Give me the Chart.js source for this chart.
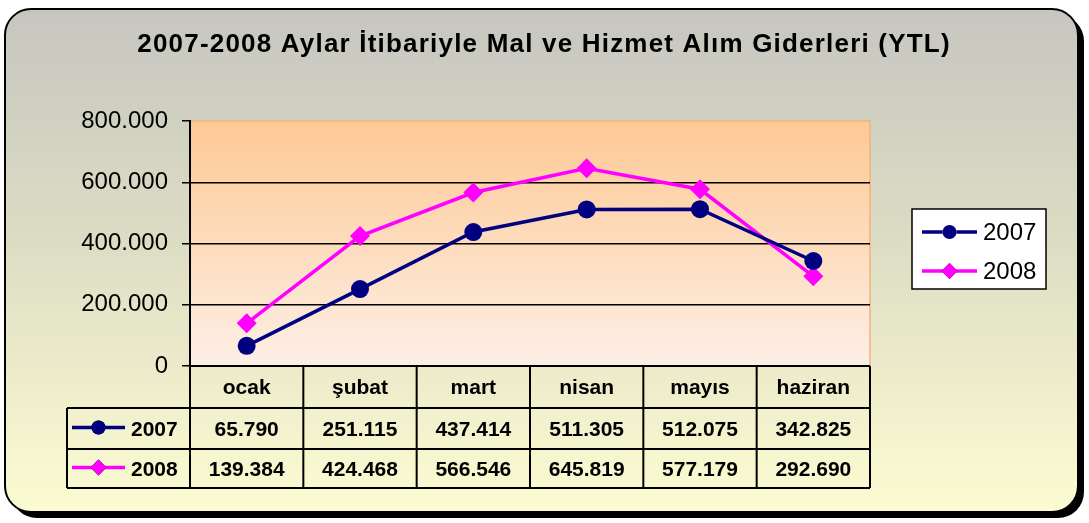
<!DOCTYPE html>
<html>
<head>
<meta charset="utf-8">
<script src="https://cdn.jsdelivr.net/npm/chart.js@4.4.0/dist/chart.umd.min.js"></script>
<style>
  html, body { margin: 0; padding: 0; background: #ffffff; }
  #wrap { width: 1089px; height: 523px; }
</style>
</head>
<body>
<div id="wrap"><canvas id="chart" width="1089" height="523"></canvas></div>
<script>
const titleText = '2007-2008 Aylar İtibariyle Mal ve Hizmet Alım Giderleri (YTL)';
const months = ['ocak', 'şubat', 'mart', 'nisan', 'mayıs', 'haziran'];
const seriesNames = ['2007', '2008'];
const values2007 = [65790, 251115, 437414, 511305, 512075, 342825];
const values2008 = [139384, 424468, 566546, 645819, 577179, 292690];
const yTicks = [0, 200000, 400000, 600000, 800000];
const lineColors = ['#000080', '#FF00FF'];
const markerStyles = ['circle', 'rectRot'];
const FONT = 'Arial, "Liberation Sans", sans-serif';

function fmt(v) {
    return v === 0 ? '0' : v.toLocaleString('de-DE');
}

// frame, shadow, title and plot area background
const backgroundPlugin = {
    id: 'background',
    beforeDraw(chart) {
        const ctx = chart.ctx;
        const a = chart.chartArea;
        ctx.save();
        const x = 5, y = 9, w = 1073, h = 503, r = 26;
        ctx.fillStyle = '#000000';
        ctx.beginPath();
        ctx.roundRect(x + 6, y + 6, w, h, r);
        ctx.fill();
        const g = ctx.createLinearGradient(0, y, 0, y + h);
        g.addColorStop(0, '#c6c6c0');
        g.addColorStop(0.45, '#dcdcc4');
        g.addColorStop(1, '#fcfcd2');
        ctx.fillStyle = g;
        ctx.strokeStyle = '#000000';
        ctx.lineWidth = 2;
        ctx.beginPath();
        ctx.roundRect(x, y, w, h, r);
        ctx.fill();
        ctx.stroke();

        ctx.fillStyle = '#000000';
        ctx.font = 'bold 26px ' + FONT;
        ctx.letterSpacing = '1.2px';
        ctx.textAlign = 'center';
        ctx.textBaseline = 'middle';
        ctx.fillText(titleText, 544, 45);
        ctx.letterSpacing = '0px';

        const pg = ctx.createLinearGradient(0, a.top, 0, a.bottom);
        pg.addColorStop(0, '#fdc994');
        pg.addColorStop(1, '#fdefe6');
        ctx.fillStyle = pg;
        ctx.fillRect(a.left, a.top, a.right - a.left, a.bottom - a.top);
        ctx.strokeStyle = '#f0b47c';
        ctx.lineWidth = 1.5;
        ctx.beginPath();
        ctx.moveTo(a.left, a.top);
        ctx.lineTo(a.right, a.top);
        ctx.lineTo(a.right, a.bottom);
        ctx.stroke();
        ctx.restore();
    }
};

function drawKey(ctx, i, x1, x2, cy) {
    ctx.strokeStyle = lineColors[i];
    ctx.lineWidth = 3.5;
    ctx.beginPath();
    ctx.moveTo(x1, cy);
    ctx.lineTo(x2, cy);
    ctx.stroke();
    Chart.helpers.drawPoint(ctx, {
        pointStyle: markerStyles[i], radius: i === 0 ? 7 : 8, borderWidth: 0
    }, (x1 + x2) / 2, cy);
    ctx.fillStyle = lineColors[i];
    ctx.fill();
}

// data table under the plot and the boxed legend on the right
const tablePlugin = {
    id: 'dataTable',
    afterDraw(chart) {
        const ctx = chart.ctx;
        const a = chart.chartArea;
        const xs = chart.scales.x;
        const colW = (a.right - a.left) / months.length;
        const rows = [a.bottom, 408, 449, 488];
        const leftX = 67;
        ctx.save();
        ctx.strokeStyle = '#000000';
        ctx.lineWidth = 2;
        ctx.beginPath();
        ctx.moveTo(a.left, rows[0]);
        ctx.lineTo(a.right, rows[0]);
        for (let r = 1; r < rows.length; r++) {
            ctx.moveTo(leftX, rows[r]);
            ctx.lineTo(a.right, rows[r]);
        }
        for (let c = 0; c <= months.length; c++) {
            const cx = a.left + c * colW;
            ctx.moveTo(cx, rows[0]);
            ctx.lineTo(cx, rows[3]);
        }
        ctx.moveTo(leftX, rows[1]);
        ctx.lineTo(leftX, rows[3]);
        ctx.stroke();

        ctx.fillStyle = '#000000';
        ctx.font = 'bold 21px ' + FONT;
        ctx.textAlign = 'center';
        ctx.textBaseline = 'middle';
        months.forEach((m, i) => {
            const cx = xs.getPixelForValue(i);
            ctx.fillText(m, cx, (rows[0] + rows[1]) / 2 + 1);
            ctx.fillText(fmt(values2007[i]), cx, (rows[1] + rows[2]) / 2 + 2);
            ctx.fillText(fmt(values2008[i]), cx, (rows[2] + rows[3]) / 2 + 2);
        });
        seriesNames.forEach((s, i) => {
            const cy = (rows[i + 1] + rows[i + 2]) / 2 + 2;
            drawKey(ctx, i, 72, 125, cy - 3);
            ctx.fillStyle = '#000000';
            ctx.textAlign = 'left';
            ctx.font = 'bold 21px ' + FONT;
            ctx.fillText(s, 131, cy);
        });

        // legend box
        ctx.fillStyle = '#ffffff';
        ctx.fillRect(912, 209, 134, 80);
        ctx.strokeStyle = '#000000';
        ctx.lineWidth = 1.5;
        ctx.strokeRect(912, 209, 134, 80);
        seriesNames.forEach((s, i) => {
            const cy = 232 + i * 39;
            drawKey(ctx, i, 922, 977, cy);
            ctx.fillStyle = '#000000';
            ctx.textAlign = 'left';
            ctx.textBaseline = 'middle';
            ctx.font = '24px ' + FONT;
            ctx.fillText(s, 983, cy + 1);
        });
        ctx.restore();
    }
};

new Chart(document.getElementById('chart'), {
    type: 'line',
    data: {
        labels: months,
        datasets: [
            {
                label: seriesNames[0],
                data: values2007,
                borderColor: lineColors[0],
                backgroundColor: lineColors[0],
                borderWidth: 3.5,
                pointStyle: markerStyles[0],
                pointRadius: 9,
                pointBorderWidth: 0,
                tension: 0
            },
            {
                label: seriesNames[1],
                data: values2008,
                borderColor: lineColors[1],
                backgroundColor: lineColors[1],
                borderWidth: 3.5,
                pointStyle: markerStyles[1],
                pointRadius: 10,
                pointBorderWidth: 0,
                tension: 0
            }
        ]
    },
    options: {
        responsive: false,
        animation: false,
        layout: { padding: { left: 0, right: 219, top: 121, bottom: 157 } },
        plugins: {
            legend: { display: false },
            tooltip: { enabled: false },
            title: { display: false }
        },
        scales: {
            x: {
                display: false,
                offset: true
            },
            y: {
                min: 0,
                max: 800000,
                afterFit(scale) { scale.width = 190; },
                afterBuildTicks(scale) { scale.ticks = yTicks.map(v => ({ value: v })); },
                ticks: {
                    color: '#000000',
                    padding: 14,
                    font: { family: FONT, size: 24 },
                    callback: v => fmt(v)
                },
                grid: {
                    color: ctx => (ctx.tick && ctx.tick.value === 800000) ? 'rgba(0,0,0,0)' : '#000000',
                    tickColor: '#000000',
                    lineWidth: 1.5,
                    tickLength: 8
                },
                border: { color: '#000000', width: 2 }
            }
        }
    },
    plugins: [backgroundPlugin, tablePlugin]
});
</script>
</body>
</html>
